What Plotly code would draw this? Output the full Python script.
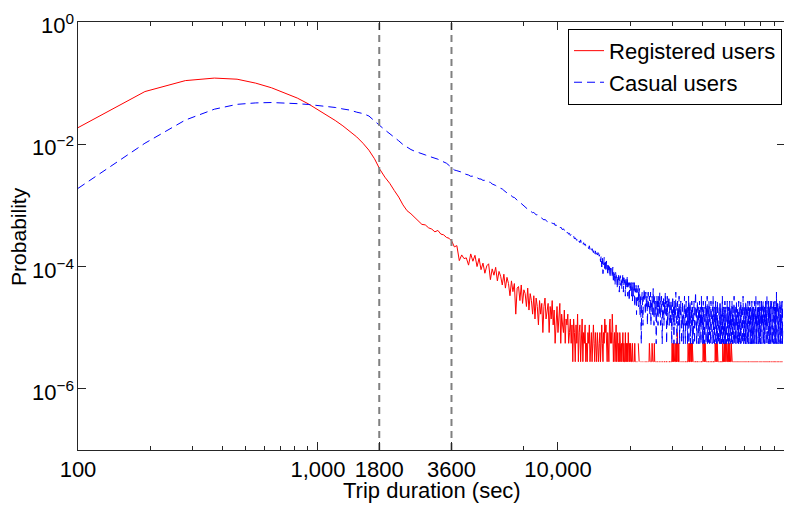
import math
import plotly.graph_objects as go

# ---------------- data ----------------
BIN_START = 100      # first bin (sec)
BIN_WIDTH = 90       # bin width (sec)
REG_TRIPS = 360000   # registered trips (1 trip = lowest visible level)
CAS_TRIPS = 183000   # casual trips

# probabilities for the first 45 bins (100 .. 4060 sec)
reg_head_prob = [0.0187, 0.0728, 0.110, 0.121, 0.116, 0.100, 0.084, 0.069, 0.057, 0.046,
                 0.037, 0.030, 0.0245, 0.0200, 0.0163, 0.0132, 0.0104, 0.0080, 0.0058, 0.0039,
                 0.0029, 0.0023, 0.00175, 0.00137, 0.00102, 0.00082, 0.00073, 0.00064, 0.00055, 0.00049,
                 0.00048, 0.00043, 0.00041, 0.00037, 0.00039, 0.00034, 0.00033, 0.00030, 0.00029, 0.00026,
                 0.00021, 0.00022, 0.000125, 0.000155, 0.000135]

cas_head_prob = [0.0019, 0.0104, 0.0249, 0.0375, 0.0450, 0.0475, 0.0482, 0.0475, 0.0462, 0.0448,
                 0.0432, 0.0413, 0.0400, 0.0378, 0.0362, 0.0335, 0.0318, 0.0290, 0.0245, 0.0202,
                 0.0172, 0.0150, 0.0131, 0.0114, 0.0099, 0.0089, 0.0082, 0.0077, 0.0074, 0.0070,
                 0.0067, 0.0064, 0.0062, 0.0060, 0.0057, 0.0054, 0.0052, 0.0049, 0.0045, 0.0041,
                 0.0038, 0.0037, 0.0036, 0.0035, 0.0033]

# trip counts per bin from bin 45 (4150 sec) to the end (86410 sec)
reg_tail_counts = [
    50, 38, 58, 44, 55, 36, 49, 32, 41, 28, 37, 40, 22, 33, 26, 35, 21, 30, 25, 18,
    27, 16, 24, 19, 12, 21, 14, 19, 6, 16, 17, 10, 18, 9, 15, 13, 8, 16, 7, 13,
    10, 6, 12, 5, 11, 8, 4, 10, 6, 9, 3, 8, 11, 5, 7, 9, 3, 8, 5, 10,
    4, 7, 2, 6, 8, 3, 5, 9, 2, 6, 4, 3, 7, 2, 5, 4, 6, 2, 3, 5,
    2, 4, 1, 5, 3, 1, 4, 2, 6, 1, 3, 4, 1, 2, 5, 1, 3, 2, 4, 1,
    2, 1, 3, 2, 4, 1, 2, 3, 1, 2, 4, 2, 1, 3, 2, 1, 3, 2, 1, 2,
    3, 1, 2, 4, 2, 1, 3, 2, 5, 3, 4, 2, 1, 3, 2, 1, 4, 5, 2, 3,
    2, 6, 3, 1, 2, 3, 1, 2, 4, 1, 2, 3, 1, 2, 1, 3, 2, 1, 2, 1,
    2, 3, 1, 2, 1, 1, 3, 1, 2, 1, 2, 1, 3, 1, 1, 2, 1, 2, 1, 1,
    1, 2, 1, 1, 0, 1, 2, 1, 1, 0, 1, 1, 1, 0, 2, 1, 1, 0, 1, 1,
    0, 1, 1, 0, 1, 1, 1, 0, 1, 1, 0, 1, 1, 1, 1, 0, 1, 1, 0, 1,
    1, 2, 1, 1, 1, 0, 1, 1, 2, 1, 1, 0, 1, 1, 2, 1, 0, 1, 1, 1,
    1, 0, 1, 1, 1, 1, 0, 1, 1, 1, 0, 1, 1, 1, 1, 0, 1, 1, 1, 1,
    0, 1, 1, 1, 1, 0, 1, 1, 1, 1, 1, 0, 1, 1, 1, 0, 1, 1, 1, 1,
    1, 1, 0, 1, 1, 1, 2, 1, 1, 2, 1, 1, 2, 1, 1, 0, 1, 1, 2, 1,
    1, 2, 1, 3, 1, 2, 1, 1, 2, 1, 0, 1, 1, 1, 1, 0, 1, 1, 1, 0,
    1, 1, 1, 0, 1, 1, 1, 1, 0, 1, 1, 1, 1, 1, 0, 1, 1, 1, 1, 1,
    1, 2, 1, 2, 1, 1, 2, 1, 1, 2, 1, 2, 1, 1, 2, 1, 1, 2, 1, 1,
    1, 1, 0, 1, 1, 1, 1, 0, 1, 1, 1, 1, 1, 1, 1, 0, 1, 1, 1, 1,
    1, 0, 1, 1, 1, 1, 1, 0, 1, 1, 1, 0, 1, 1, 1, 1, 1, 1, 0, 1,
    1, 2, 1, 1, 2, 1, 2, 1, 1, 1, 2, 1, 1, 1, 0, 1, 1, 1, 1, 1,
    1, 1, 0, 1, 1, 1, 1, 1, 1, 0, 1, 1, 1, 1, 1, 1, 0, 1, 1, 1,
    1, 1, 1, 1, 0, 1, 1, 1, 1, 1, 1, 1, 1, 0, 1, 1, 2, 1, 2, 1,
    1, 2, 1, 2, 1, 1, 2, 1, 1, 1, 1, 1, 0, 1, 1, 1, 1, 1, 0, 1,
    1, 1, 1, 1, 1, 0, 1, 1, 1, 1, 1, 1, 1, 1, 2, 1, 1, 2, 1, 1,
    2, 1, 1, 2, 1, 2, 1, 1, 1, 2, 1, 1, 2, 1, 1, 2, 1, 1, 1, 2,
    1, 1, 2, 1, 1, 2, 1, 1, 1, 2, 1, 2, 1, 1, 1, 2, 1, 1, 1, 1,
    2, 1, 1, 2, 1, 1, 0, 1, 1, 1, 1, 1, 1, 0, 1, 1, 1, 1, 1, 0,
    1, 1, 1, 0, 1, 1, 1, 1, 1, 0, 1, 1, 1, 1, 0, 1, 1, 1, 1, 1,
    1, 0, 1, 1, 1, 1, 1, 1, 0, 1, 1, 1, 1, 1, 1, 0, 1, 1, 1, 1,
    0, 1, 1, 1, 1, 1, 0, 1, 1, 1, 1, 1, 1, 1, 0, 1, 1, 1, 0, 1,
    1, 1, 1, 1, 0, 1, 1, 1, 1, 1, 1, 0, 1, 1, 1, 1, 1, 0, 1, 1,
    1, 1, 0, 1, 1, 1, 1, 1, 1, 1, 0, 1, 1, 1, 1, 0, 1, 1, 1, 1,
    1, 0, 1, 1, 1, 1, 0, 1, 1, 1, 1, 1, 1, 0, 1, 1, 1, 1, 1, 1,
    0, 1, 1, 1, 1, 1, 1, 0, 1, 1, 1, 1, 0, 1, 1, 1, 1, 1, 1, 0,
    1, 1, 1, 1, 1, 0, 1, 1, 1, 1, 1, 1, 0, 1, 1, 1, 0, 1, 1, 1,
    1, 1, 0, 1, 1, 1, 1, 1, 1, 0, 1, 1, 1, 1, 1, 1, 1, 0, 1, 1,
    1, 1, 1, 1, 0, 1, 1, 1, 0, 1, 1, 1, 1, 1, 1, 0, 1, 1, 1, 1,
    1, 0, 1, 1, 1, 1, 1, 1, 1, 0, 1, 1, 1, 1, 0, 1, 1, 1, 1, 1,
    1, 1, 1, 0, 1, 1, 1, 1, 1, 1, 0, 1, 1, 1, 1, 1, 0, 1, 1, 1,
    1, 1, 1, 1, 1, 0, 1, 1, 1, 1, 0, 1, 1, 1, 1, 1, 1, 1, 0, 1,
    1, 1, 0, 1, 1, 1, 1, 1, 0, 1, 1, 1, 1, 1, 1, 0, 1, 1, 1, 1,
    1, 1, 1, 1, 0, 1, 1, 1, 1, 1, 1, 0, 1, 1, 1, 0, 1, 1, 1, 1,
    0, 1, 1, 1, 1, 1, 1, 1, 0, 1, 1, 1, 1, 0, 1, 1, 1, 1, 1, 1,
    1, 1, 0, 1, 1, 1, 1, 0, 1, 1, 1, 1, 1, 1, 0, 1, 1, 1, 1, 1,
    1, 1, 1, 0, 1, 1, 1, 1, 1, 0, 1, 1, 1, 1, 1,
]

cas_tail_counts = [
    590, 575, 548, 552, 526, 520, 497, 494, 470, 472, 452, 440, 436, 410, 402, 388, 371, 366, 348, 340,
    322, 305, 298, 280, 276, 262, 250, 247, 231, 226, 212, 206, 196, 190, 178, 174, 165, 160, 152, 149,
    146, 139, 141, 133, 128, 129, 121, 118, 117, 112, 110, 106, 108, 102, 100, 99, 96, 98, 94, 95,
    91, 94, 86, 88, 83, 85, 79, 78, 81, 74, 73, 76, 70, 68, 71, 65, 66, 62, 64, 59,
    61, 57, 55, 58, 52, 54, 50, 49, 53, 47, 48, 45, 50, 44, 46, 42, 45, 41, 43, 40,
    41, 38, 39, 36, 40, 35, 37, 33, 36, 34, 31, 35, 30, 33, 29, 32, 28, 31, 30, 27,
    29, 22, 27, 18, 25, 14, 23, 26, 17, 22, 15, 23, 20, 13, 21, 16, 20, 12, 19, 17,
    17, 12, 18, 10, 16, 13, 9, 15, 12, 14, 8, 13, 11, 14, 7, 12, 13, 9, 12, 8,
    11, 14, 7, 12, 9, 11, 6, 12, 8, 10, 13, 6, 10, 9, 5, 10, 7, 9, 11, 6,
    9, 5, 10, 6, 8, 11, 4, 8, 7, 9, 3, 8, 7, 5, 9, 4, 7, 8, 3, 6,
    3, 1, 5, 7, 4, 2, 6, 5, 8, 4, 6, 3, 7, 5, 4, 6, 2, 5, 7, 4,
    5, 6, 3, 4, 7, 2, 5, 4, 6, 3, 5, 8, 4, 2, 5, 6, 3, 4, 5, 1,
    4, 6, 3, 5, 2, 6, 4, 5, 3, 7, 4, 2, 5, 4, 6, 3, 1, 4, 5, 3,
    6, 2, 4, 5, 3, 7, 4, 3, 5, 1, 4, 6, 2, 5, 3, 4, 6, 2, 3, 5,
    3, 4, 2, 5, 3, 1, 4, 3, 6, 2, 3, 4, 1, 5, 3, 2, 4, 3, 7, 2,
    4, 3, 1, 3, 5, 2, 4, 3, 2, 6, 3, 1, 4, 2, 3, 5, 2, 4, 1, 3,
    2, 5, 3, 4, 1, 3, 2, 4, 6, 3, 2, 1, 4, 3, 5, 2, 3, 4, 2, 1,
    4, 2, 3, 6, 1, 3, 4, 2, 5, 3, 1, 2, 4, 3, 2, 5, 3, 1, 4, 3,
    1, 4, 2, 3, 5, 2, 1, 3, 4, 2, 7, 3, 2, 4, 1, 3, 2, 5, 3, 2,
    3, 1, 4, 2, 3, 2, 5, 1, 3, 4, 2, 3, 1, 4, 6, 2, 3, 2, 4, 1,
    2, 3, 5, 1, 2, 4, 3, 2, 1, 3, 4, 2, 5, 3, 1, 2, 4, 3, 2, 6,
    1, 3, 2, 4, 2, 1, 3, 5, 2, 3, 1, 4, 2, 3, 2, 1, 5, 3, 2, 4,
    3, 2, 1, 4, 3, 2, 6, 2, 3, 1, 2, 4, 3, 1, 3, 2, 4, 2, 5, 1,
    2, 4, 3, 1, 2, 3, 2, 5, 1, 3, 4, 2, 1, 3, 2, 4, 3, 2, 1, 3,
    5, 2, 3, 1, 4, 2, 3, 2, 1, 4, 3, 2, 6, 1, 3, 2, 4, 3, 1, 2,
    3, 4, 1, 2, 3, 5, 2, 3, 1, 2, 4, 3, 2, 1, 3, 4, 2, 3, 5, 2,
    1, 3, 2, 4, 1, 3, 2, 3, 4, 1, 2, 5, 3, 2, 1, 3, 2, 4, 3, 2,
    4, 1, 3, 2, 5, 2, 1, 3, 4, 2, 3, 1, 2, 4, 3, 2, 6, 1, 3, 2,
    2, 3, 4, 1, 2, 3, 1, 4, 2, 3, 5, 2, 1, 3, 2, 4, 3, 1, 2, 3,
    3, 2, 1, 5, 3, 2, 4, 1, 3, 2, 3, 4, 2, 1, 3, 2, 5, 3, 2, 1,
    4, 3, 2, 1, 3, 4, 2, 3, 1, 2, 6, 3, 2, 4, 1, 3, 2, 3, 4, 2,
    1, 2, 3, 4, 2, 1, 3, 5, 2, 3, 1, 4, 3, 2, 1, 3, 4, 2, 3, 1,
    3, 5, 2, 1, 3, 2, 4, 3, 1, 2, 3, 4, 2, 5, 1, 3, 2, 3, 1, 4,
    2, 3, 1, 4, 3, 2, 1, 3, 5, 2, 4, 1, 3, 2, 3, 4, 2, 1, 3, 2,
    4, 2, 3, 1, 2, 5, 3, 2, 4, 1, 3, 2, 3, 1, 4, 2, 6, 3, 2, 1,
    3, 1, 2, 4, 3, 2, 1, 3, 4, 2, 3, 5, 1, 2, 3, 4, 2, 3, 1, 2,
    2, 4, 3, 1, 5, 2, 3, 4, 2, 1, 3, 2, 4, 3, 1, 2, 3, 5, 2, 3,
    1, 3, 4, 2, 3, 1, 2, 4, 3, 2, 5, 1, 3, 2, 4, 3, 1, 2, 3, 4,
    3, 2, 1, 3, 4, 2, 3, 1, 5, 2, 3, 4, 2, 1, 3, 2, 4, 3, 2, 6,
    2, 1, 3, 4, 2, 3, 1, 2, 4, 3, 2, 5, 3, 1, 2, 4, 3, 2, 1, 3,
    4, 3, 2, 1, 3, 2, 5, 3, 2, 4, 1, 3, 2, 3, 4, 1, 2, 3, 5, 2,
    1, 2, 4, 3, 2, 3, 1, 4, 2, 3, 2, 1, 5, 3, 2, 4, 3, 1, 2, 3,
    3, 4, 2, 1, 3, 5, 2, 3, 1, 2, 4, 3, 2, 3, 1, 4, 2, 3, 7, 2,
    2, 3, 1, 4, 2, 3, 4, 1, 3, 2, 5, 3, 2, 1, 4, 3, 2, 3, 1, 4,
    3, 2, 4, 1, 3, 2, 3, 5, 2, 1, 3, 4, 2, 3, 1, 2, 4, 3, 2, 5,
    1, 3, 2, 4, 3, 2, 1, 3, 5, 2, 3, 4, 1, 3, 2,
]

series_names = ["Registered users", "Casual users"]
x_title = "Trip duration (sec)"
y_title = "Probability"
x_tickvals = [100, 1000, 1800, 3600, 10000]
x_ticktext = ["100", "1,000", "1800", "3600", "10,000"]
x_minor_ticks = [200, 300, 400, 500, 600, 700, 800, 900, 7200,
                 20000, 30000, 40000, 50000, 60000, 70000, 80000]
y_tickvals = [1, 1e-2, 1e-4, 1e-6]
y_ticktext = ["10<sup>0</sup>", "10<sup>−2</sup>", "10<sup>−4</sup>", "10<sup>−6</sup>"]
ref_lines = [1800, 3600]


def to_prob(head, tail, total):
    return head + [c / total if c > 0 else None for c in tail]


reg_y = to_prob(reg_head_prob, reg_tail_counts, REG_TRIPS)
cas_y = to_prob(cas_head_prob, cas_tail_counts, CAS_TRIPS)
reg_x = [BIN_START + BIN_WIDTH * i for i in range(len(reg_y))]
cas_x = [BIN_START + BIN_WIDTH * i for i in range(len(cas_y))]

AX = "#262626"
FONT = "Liberation Sans, Arial, Helvetica, sans-serif"

fig = go.Figure()
fig.add_trace(go.Scatter(x=reg_x, y=reg_y, mode="lines", name=series_names[0],
                         line=dict(color="rgb(255,0,0)", width=1), connectgaps=False))
fig.add_trace(go.Scatter(x=cas_x, y=cas_y, mode="lines", name=series_names[1],
                         line=dict(color="rgb(0,0,255)", width=1, dash="8px,5px"), connectgaps=False))
for xv in ref_lines:
    fig.add_trace(go.Scatter(x=[xv, xv], y=[1e-7, 1], mode="lines", showlegend=False,
                             hoverinfo="skip",
                             line=dict(color="rgb(128,128,128)", width=2, dash="7px,5px")))

# y tick labels placed right next to the axis (log axis -> annotation y is log10 value)
y_label_annotations = [
    dict(text=t, xref="paper", yref="y", x=0, y=math.log10(v), xanchor="right",
         yanchor="middle", xshift=-2, yshift=-2, showarrow=False, font=dict(size=22))
    for v, t in zip(y_tickvals, y_ticktext)
]

# the page adds an 8px body margin, so the figure is 8px smaller than the window
fig.update_layout(
    width=784, height=500,
    margin=dict(l=70, r=7, t=14, b=58),
    paper_bgcolor="white", plot_bgcolor="white",
    font=dict(family=FONT, size=22, color="black"),
    legend=dict(x=0.9958, y=0.984, xanchor="right", yanchor="top",
                bordercolor="black", borderwidth=1, bgcolor="white",
                font=dict(size=22), tracegroupgap=0),
    xaxis=dict(type="log", range=[2, 4.946], tickvals=x_tickvals, ticktext=x_ticktext,
               ticks="inside", ticklen=8, tickwidth=1, tickcolor=AX,
               showline=True, linecolor=AX, linewidth=1, mirror="ticks",
               showgrid=False, zeroline=False, automargin=False,
               minor=dict(tickvals=x_minor_ticks, ticks="inside", ticklen=4,
                          tickcolor=AX, tickwidth=1, showgrid=False)),
    yaxis=dict(type="log", range=[-7, 0], tickvals=y_tickvals, showticklabels=False,
               ticks="inside", ticklen=8, tickwidth=1, tickcolor=AX,
               showline=True, linecolor=AX, linewidth=1, mirror="ticks",
               showgrid=False, zeroline=False, automargin=False),
    annotations=y_label_annotations + [
        dict(text=x_title, xref="paper", yref="paper", x=0.5, y=-0.0935,
             xanchor="center", yanchor="middle", showarrow=False, font=dict(size=22)),
        dict(text=y_title, xref="paper", yref="paper", x=-0.085, y=0.5,
             xanchor="center", yanchor="middle", textangle=-90, showarrow=False,
             font=dict(size=21)),
    ],
)

fig.write_html("out.html")
